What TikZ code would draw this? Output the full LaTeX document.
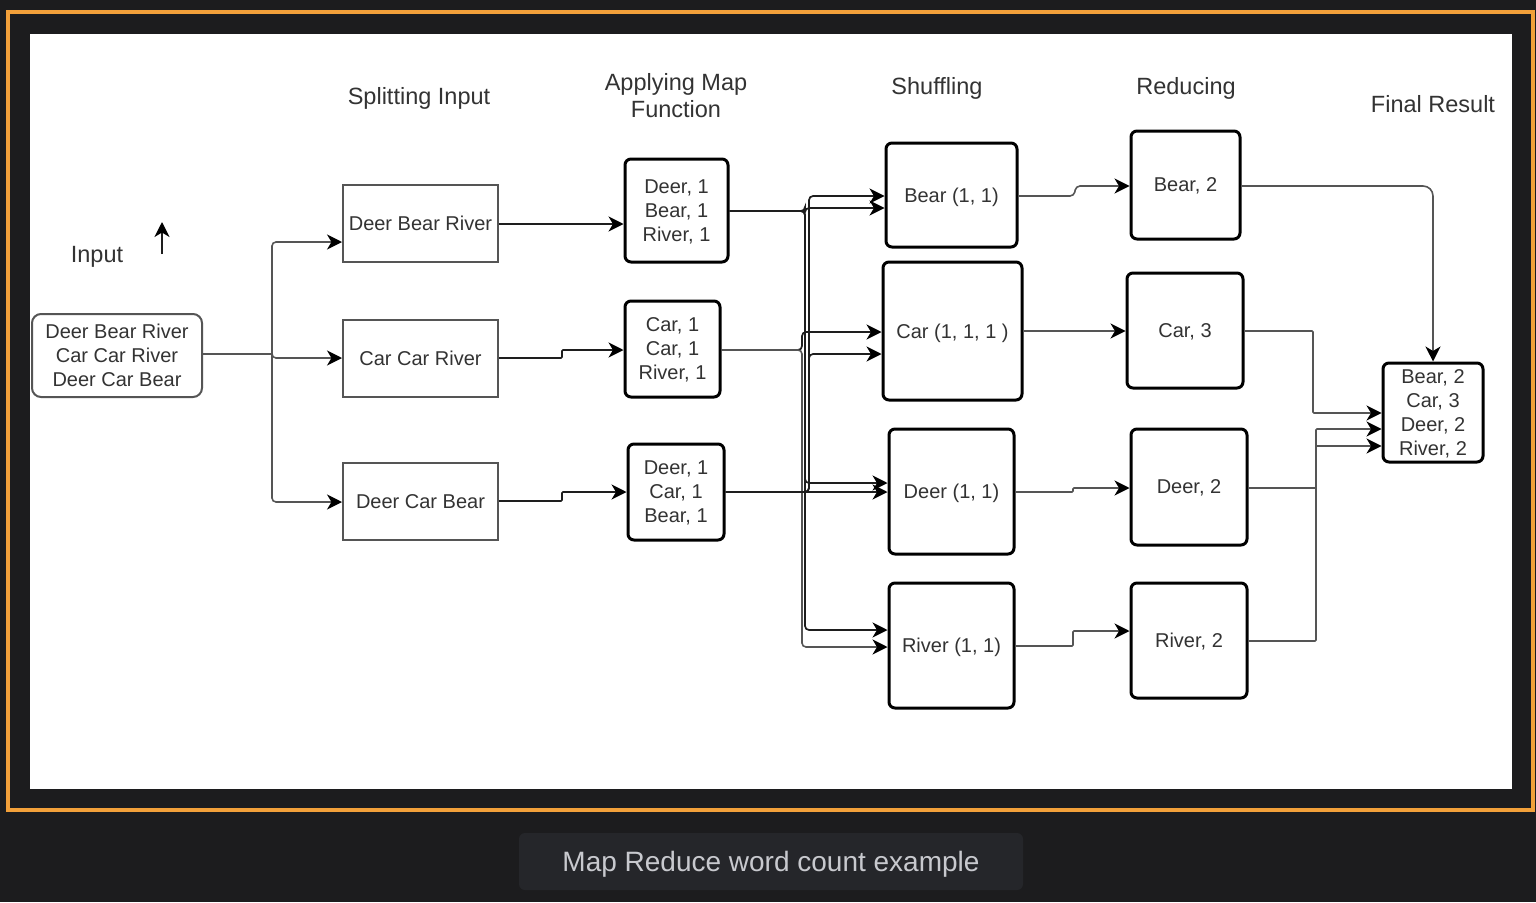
\documentclass[tikz,border=0pt]{standalone}
\usepackage{fontspec}
\setmainfont{Liberation Sans}
\usetikzlibrary{arrows.meta}
\definecolor{bgdark}{HTML}{1C1C1E}
\definecolor{orangeframe}{HTML}{F2A03A}
\definecolor{capbox}{HTML}{25262A}
\definecolor{captext}{HTML}{C8C9CE}
\definecolor{txt}{HTML}{333333}
\definecolor{lin}{HTML}{1E1E1E}
\definecolor{thin}{HTML}{555555}
\tikzset{
  boxtext/.style={font=\fontsize{20}{24}\selectfont, text=txt, align=center, inner sep=0pt},
  header/.style={font=\fontsize{23.5}{27}\selectfont, text=txt, align=center, inner sep=0pt, text depth=0pt},
  inbox/.style={boxtext, draw=thin, line width=2pt, rounded corners=9pt, fill=white},
  splitbox/.style={boxtext, draw=thin, line width=2pt, fill=white},
  mbox/.style={boxtext, draw=black, line width=3pt, rounded corners=6pt, fill=white, text depth=-5pt},
  conn/.style={draw=lin, line width=1.7pt, rounded corners=4pt},
  thinconn/.style={draw=thin, line width=1.6pt, rounded corners=4pt},
  arr/.style={-{Stealth[length=15pt,width=15pt,inset=4.5pt,color=black]}},
}
\begin{document}
\begin{tikzpicture}[x=1pt,y=-1pt]
% background and frame
\fill[bgdark] (0,0) rectangle (1536,902);
\draw[orangeframe, line width=4pt] (8,12) rectangle (1533,810);
\fill[white] (30,34) rectangle (1512,789);
\fill[capbox, rounded corners=6pt] (519,833) rectangle (1023,890);
\node[font=\fontsize{28}{32}\selectfont, text=captext, inner sep=0pt, text depth=0pt] (caption) at (771,861) {Map Reduce word count example};

% headers
\node[header] (hsplit) at (419,96) {Splitting Input};
\node[header] (hmap) at (676,95.5) {Applying Map\\Function};
\node[header] (hshuf) at (937,86) {Shuffling};
\node[header] (hred) at (1186,86) {Reducing};
\node[header] (hfin) at (1433,104) {Final Result};
\node[header] (hin) at (97,254) {Input};
\coordinate (ua) at (162,254);
\coordinate (ub) at (162,222);
\draw[conn,arr] (ua) -- (ub);

% input
\node[inbox, minimum width=170pt, minimum height=83pt] (input) at (117,355.5) {Deer Bear River\\Car Car River\\Deer Car Bear};

% split
\node[splitbox, minimum width=155pt, minimum height=77pt] (split1) at (420.5,223.5) {Deer Bear River};
\node[splitbox, minimum width=155pt, minimum height=77pt] (split2) at (420.5,358.5) {Car Car River};
\node[splitbox, minimum width=155pt, minimum height=77pt] (split3) at (420.5,501.5) {Deer Car Bear};

% map
\node[mbox, minimum width=103pt, minimum height=103pt] (map1) at (676.5,210.5) {Deer, 1\\Bear, 1\\River, 1};
\node[mbox, minimum width=95pt, minimum height=96pt] (map2) at (672.5,349) {Car, 1\\Car, 1\\River, 1};
\node[mbox, minimum width=96pt, minimum height=96pt] (map3) at (676,492) {Deer, 1\\Car, 1\\Bear, 1};

% shuffle
\node[mbox, minimum width=131pt, minimum height=104pt] (sh1) at (951.5,195) {Bear (1, 1)};
\node[mbox, minimum width=139pt, minimum height=138pt] (sh2) at (952.5,331) {Car (1, 1, 1 )};
\node[mbox, minimum width=125pt, minimum height=125pt] (sh3) at (951.5,491.5) {Deer (1, 1)};
\node[mbox, minimum width=125pt, minimum height=125pt] (sh4) at (951.5,645.5) {River (1, 1)};

% reduce
\node[mbox, minimum width=109pt, minimum height=108pt] (r1) at (1185.5,185) {Bear, 2};
\node[mbox, minimum width=116pt, minimum height=115pt] (r2) at (1185,330.5) {Car, 3};
\node[mbox, minimum width=116pt, minimum height=116pt] (r3) at (1189,487) {Deer, 2};
\node[mbox, minimum width=116pt, minimum height=115pt] (r4) at (1189,640.5) {River, 2};

% final
\node[mbox, minimum width=100pt, minimum height=99pt] (final) at (1433,412.5) {Bear, 2\\Car, 3\\Deer, 2\\River, 2};

% input -> split
\coordinate (j0) at (272,354);
\draw[thinconn] (input.east |- 0,354) -- (j0);
\draw[thinconn,arr] (j0) |- (split1.west |- 0,242);
\draw[thinconn,arr] (j0) |- (split2.west |- 0,358);
\draw[thinconn,arr] (j0) |- (split3.west |- 0,502);

% split -> map
\draw[conn,arr] (split1.east |- 0,224) -- (map1.west |- 0,224);
\draw[conn,arr,rounded corners=1pt] (split2.east |- 0,358) -- (562,358) -- (562,350) -- (map2.west |- 0,350);
\draw[conn,arr,rounded corners=1pt] (split3.east |- 0,501) -- (562,501) -- (562,492) -- (map3.west |- 0,492);

% map -> shuffle
\draw[conn,arr] (map1.east |- 0,211) -- (805,211) |- (sh1.west |- 0,208);
\draw[conn,arr] (map1.east |- 0,211) -- (805,211) |- (sh3.west |- 0,483);
\draw[conn,arr] (map1.east |- 0,211) -- (805,211) |- (sh4.west |- 0,630);
\draw[conn,arr] (map2.east |- 0,350) -- (802,350) |- (sh2.west |- 0,332);
\draw[thinconn,arr] (map2.east |- 0,350) -- (802,350) |- (sh4.west |- 0,647);
\draw[conn,arr] (map3.east |- 0,492) -- (809,492) |- (sh1.west |- 0,196);
\draw[conn,arr] (map3.east |- 0,492) -- (809,492) |- (sh2.west |- 0,354);
\draw[conn,arr] (map3.east |- 0,492) -- (sh3.west |- 0,492);

% shuffle -> reduce
\draw[thinconn,arr] (sh1.east |- 0,196) -- (1074,196) -- (1076,186) -- (r1.west |- 0,186);
\draw[thinconn,arr] (sh2.east |- 0,331) -- (r2.west |- 0,331);
\draw[thinconn,arr,rounded corners=1pt] (sh3.east |- 0,492) -- (1073,492) -- (1073,488) -- (r3.west |- 0,488);
\draw[thinconn,arr,rounded corners=1pt] (sh4.east |- 0,646) -- (1073,646) -- (1073,631) -- (r4.west |- 0,631);

% reduce -> final
\draw[thinconn,arr,rounded corners=10pt] (r1.east |- 0,186) -| (final.north);
\draw[thinconn,arr,rounded corners=1pt] (r2.east |- 0,331) -| (1313,413) -- (final.west |- 0,413);
\draw[thinconn,arr,rounded corners=1pt] (r3.east |- 0,488) -| (1316,429) -- (final.west |- 0,429);
\draw[thinconn,arr,rounded corners=1pt] (r4.east |- 0,641) -| (1316,446) -- (final.west |- 0,446);
\end{tikzpicture}
\end{document}
